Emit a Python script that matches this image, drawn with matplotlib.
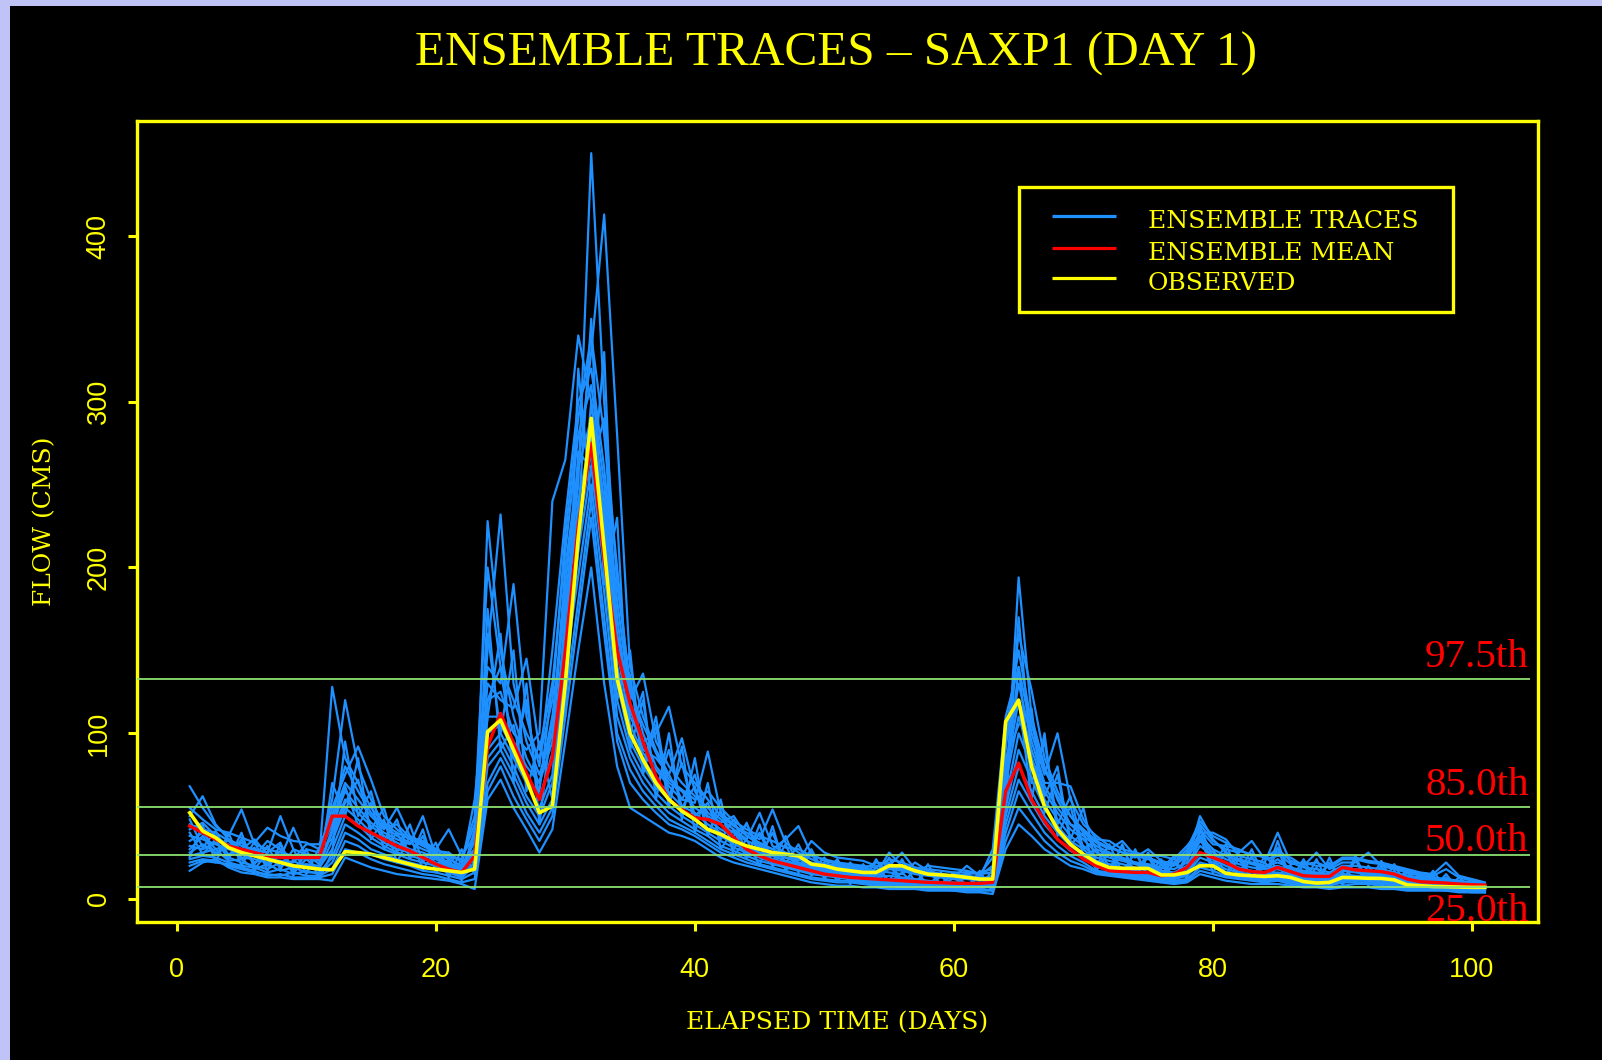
import numpy as np
import matplotlib
matplotlib.use('Agg')
import matplotlib.pyplot as plt
from matplotlib import font_manager
from matplotlib.patches import Rectangle

# daily flows (CMS), days 1..101
days = np.arange(1, 102)

observed = [
    52, 41, 37, 31, 28, 26, 24, 22, 20, 19,
    18, 17.6, 28.5, 28, 27, 25, 23, 21, 19, 18,
    17, 16, 18, 101, 108, 90, 72, 52, 56, 130,
    218, 290, 212, 133, 100, 84, 70, 60, 53, 48,
    42, 39, 35, 32, 30, 28, 27, 26, 21, 20,
    18, 17, 16, 16, 20, 20, 17, 15, 14.5, 14,
    13, 12, 12, 107, 120, 80, 56, 42, 33, 27,
    22, 19, 18.5, 18.5, 18.4, 14.5, 14.5, 16, 20, 20,
    15.5, 14.5, 14, 13.6, 14, 13, 10.5, 9.6, 10, 13,
    12.8, 12.5, 12.4, 11.5, 8.5, 8, 7.5, 7.4, 7.2, 7, 7,
]

ens_mean = [
    44, 40, 36, 32, 30, 28, 26, 25, 25, 25,
    25, 50, 50, 44, 40, 36, 32, 29, 25, 21,
    18, 16, 26, 92, 112, 94, 76, 60, 85, 150,
    225, 275, 205, 150, 118, 95, 74, 60, 54, 49,
    48, 45, 37, 30, 26, 23, 21, 19, 17, 15,
    14, 13, 12.5, 12, 11.5, 11, 10.5, 10, 9.8, 9.5,
    9.4, 9.4, 10, 65, 82, 60, 47, 36, 30, 24,
    20, 17, 16.5, 16, 16, 14, 15, 19, 28, 25,
    22, 18, 16.5, 16, 19, 16.5, 14, 13.6, 13.6, 19,
    17.5, 17, 16.5, 15, 12, 10.4, 10, 9.6, 9, 8.6, 8.4,
]

trace_01 = [
    68, 55, 44, 38, 54, 33, 30, 28, 26, 24,
    24, 128, 85, 70, 55, 45, 40, 36, 33, 29,
    28, 22, 30, 228, 150, 110, 85, 70, 110, 180,
    250, 450, 300, 190, 130, 100, 80, 70, 65, 55,
    50, 45, 40, 35, 32, 28, 25, 22, 20, 18,
    17, 16, 15, 14, 18, 17, 15, 14, 13, 12,
    12, 11, 12, 60, 194, 110, 80, 60, 45, 38,
    32, 28, 25, 22, 21, 19, 18, 22, 50, 36,
    28, 24, 22, 20, 22, 19, 17, 16, 15, 18,
    18, 17, 16, 15, 13, 12, 11, 10, 9, 8, 7,
]
trace_02 = [
    50, 62, 45, 36, 32, 30, 28, 50, 30, 27,
    26, 60, 120, 80, 60, 44, 38, 34, 30, 27,
    25, 24, 45, 150, 232, 130, 95, 75, 100, 200,
    260, 330, 413, 280, 140, 110, 90, 75, 60, 58,
    89, 52, 45, 38, 33, 30, 27, 24, 21, 19,
    18, 17, 16, 15, 28, 20, 16, 15, 14, 13,
    13, 12, 14, 90, 160, 126, 85, 65, 50, 40,
    34, 30, 35, 26, 24, 21, 20, 26, 40, 40,
    36, 26, 24, 22, 40, 22, 19, 18, 16, 20,
    20, 19, 18, 16, 14, 13, 12, 11, 10, 9, 8,
]
trace_03 = [
    45, 42, 40, 35, 30, 36, 27, 25, 43, 25,
    23, 55, 75, 92, 72, 50, 42, 36, 32, 28,
    24, 20, 60, 140, 130, 190, 110, 80, 150, 230,
    300, 320, 260, 180, 120, 136, 95, 80, 70, 62,
    55, 48, 42, 36, 52, 32, 28, 25, 22, 20,
    19, 18, 17, 16, 20, 28, 18, 16, 15, 14,
    14, 13, 30, 110, 140, 100, 75, 100, 60, 45,
    38, 32, 28, 25, 30, 23, 21, 28, 45, 35,
    30, 28, 35, 24, 26, 25, 20, 28, 18, 22,
    22, 28, 20, 18, 16, 14, 13, 12, 11, 10, 9,
]
trace_04 = [
    42, 46, 38, 32, 34, 26, 35, 30, 24, 33,
    33, 48, 70, 60, 50, 42, 55, 38, 34, 30,
    42, 26, 38, 130, 120, 115, 145, 90, 130, 210,
    280, 310, 250, 170, 110, 95, 100, 116, 80, 70,
    60, 50, 44, 40, 36, 54, 34, 28, 24, 21,
    20, 19, 18, 22, 21, 19, 17, 15, 14, 13,
    20, 14, 20, 80, 130, 95, 70, 70, 68, 48,
    36, 35, 30, 28, 26, 26, 24, 32, 42, 33,
    32, 30, 26, 26, 28, 21, 22, 20, 20, 25,
    25, 23, 22, 20, 18, 16, 15, 22, 14, 12, 10,
]
trace_05 = [
    38, 36, 33, 30, 27, 29, 24, 23, 22, 30,
    28, 45, 65, 55, 46, 40, 36, 33, 50, 26,
    22, 18, 35, 120, 125, 100, 90, 100, 240, 265,
    340, 300, 240, 160, 115, 90, 85, 75, 97, 65,
    52, 46, 50, 38, 34, 30, 36, 44, 27, 23,
    21, 20, 19, 17, 16, 15, 22, 17, 15, 14,
    15, 16, 18, 75, 120, 90, 68, 55, 45, 42,
    30, 27, 24, 22, 20, 18, 26, 24, 38, 30,
    26, 23, 21, 19, 24, 18, 16, 15, 14, 19,
    17, 16, 15, 14, 12, 11, 10, 9, 8, 8, 7,
]
trace_06 = [
    35, 40, 30, 33, 25, 24, 22, 26, 20, 21,
    20, 40, 60, 52, 44, 38, 34, 30, 28, 25,
    21, 19, 30, 110, 110, 95, 80, 70, 95, 190,
    260, 290, 230, 150, 105, 88, 78, 68, 60, 75,
    48, 42, 38, 45, 30, 27, 25, 23, 35, 28,
    25, 24, 23, 20, 19, 18, 16, 20, 19, 18,
    17, 15, 16, 70, 110, 85, 65, 52, 42, 36,
    28, 25, 23, 21, 19, 17, 16, 20, 35, 28,
    24, 21, 19, 18, 20, 17, 15, 14, 13, 17,
    16, 15, 14, 13, 11, 10, 9, 9, 8, 7, 6,
]
trace_07 = [
    32, 30, 34, 27, 29, 22, 25, 20, 23, 19,
    18, 35, 55, 48, 40, 34, 30, 28, 26, 24,
    20, 17, 28, 100, 105, 90, 75, 60, 85, 170,
    240, 280, 220, 140, 100, 85, 72, 64, 56, 52,
    45, 40, 35, 32, 28, 26, 23, 21, 19, 17,
    16, 15, 14, 13, 14, 13, 12, 11, 10, 10,
    9, 9, 12, 60, 100, 80, 60, 48, 38, 32,
    25, 23, 21, 19, 18, 16, 15, 18, 32, 26,
    22, 19, 17, 16, 18, 15, 13, 13, 12, 15,
    14, 14, 13, 12, 10, 9, 9, 8, 7, 7, 6,
]
trace_08 = [
    28, 33, 28, 25, 22, 20, 18, 22, 18, 20,
    19, 30, 50, 45, 37, 32, 28, 26, 24, 22,
    19, 15, 25, 90, 100, 85, 70, 55, 75, 160,
    220, 270, 210, 130, 95, 80, 68, 60, 54, 48,
    42, 38, 33, 30, 27, 24, 22, 20, 18, 16,
    15, 14, 13, 12, 12, 12, 11, 10, 9, 9,
    8, 8, 10, 55, 90, 72, 55, 44, 35, 30,
    23, 21, 19, 17, 16, 15, 14, 16, 28, 24,
    20, 17, 16, 15, 16, 14, 12, 12, 11, 14,
    13, 13, 12, 11, 9, 9, 8, 8, 7, 6, 6,
]
trace_09 = [
    26, 28, 30, 23, 24, 18, 21, 17, 19, 16,
    16, 25, 45, 40, 34, 30, 27, 24, 22, 20,
    17, 14, 22, 85, 95, 80, 62, 50, 70, 150,
    210, 260, 200, 120, 90, 75, 64, 56, 50, 45,
    40, 35, 31, 28, 25, 22, 20, 18, 16, 15,
    14, 13, 12, 11, 11, 10, 10, 9, 8, 8,
    7, 7, 9, 50, 80, 65, 50, 40, 32, 27,
    21, 19, 17, 16, 15, 14, 13, 15, 25, 22,
    18, 16, 14, 14, 15, 13, 11, 11, 10, 12,
    12, 12, 11, 10, 9, 8, 8, 7, 6, 6, 5,
]
trace_10 = [
    24, 26, 25, 22, 20, 19, 16, 18, 15, 17,
    15, 22, 40, 36, 30, 27, 24, 22, 20, 18,
    16, 13, 20, 80, 90, 75, 58, 45, 60, 140,
    195, 250, 185, 110, 85, 70, 60, 52, 47, 42,
    38, 32, 29, 26, 23, 21, 19, 17, 15, 14,
    13, 12, 11, 10, 10, 9, 9, 8, 7, 7,
    7, 6, 8, 45, 72, 58, 45, 36, 29, 25,
    19, 18, 16, 15, 14, 13, 12, 14, 22, 20,
    16, 14, 13, 12, 13, 11, 10, 10, 9, 11,
    11, 11, 10, 9, 8, 8, 7, 7, 6, 5, 5,
]
trace_11 = [
    22, 24, 23, 20, 18, 16, 15, 14, 16, 14,
    14, 18, 35, 32, 27, 24, 22, 20, 17, 16,
    14, 12, 16, 70, 85, 70, 52, 40, 55, 120,
    180, 240, 170, 100, 78, 65, 56, 48, 44, 40,
    35, 30, 27, 24, 21, 19, 17, 15, 13, 12,
    11, 11, 10, 9, 9, 8, 8, 7, 6, 6,
    6, 5, 6, 40, 65, 52, 40, 32, 26, 22,
    17, 16, 15, 14, 13, 12, 11, 12, 19, 17,
    14, 13, 12, 11, 12, 10, 9, 9, 8, 10,
    10, 10, 9, 8, 7, 7, 6, 6, 5, 5, 5,
]
trace_12 = [
    20, 23, 22, 21, 19, 17, 14, 15, 13, 13,
    13, 15, 30, 28, 24, 21, 19, 17, 15, 14,
    12, 10, 12, 65, 80, 62, 48, 35, 50, 110,
    170, 230, 160, 95, 70, 60, 52, 45, 42, 38,
    33, 28, 25, 22, 20, 18, 16, 14, 12, 11,
    10, 10, 9, 8, 8, 7, 7, 6, 6, 5,
    5, 5, 5, 35, 55, 45, 35, 28, 23, 20,
    16, 15, 14, 13, 12, 11, 10, 11, 17, 15,
    13, 12, 11, 10, 11, 9, 8, 8, 7, 8,
    9, 9, 8, 7, 6, 6, 6, 5, 5, 4, 4,
]
trace_13 = [
    17, 22, 24, 19, 16, 15, 13, 13, 12, 12,
    12, 11, 25, 22, 19, 17, 15, 14, 13, 12,
    11, 9, 6, 60, 72, 55, 42, 28, 42, 95,
    150, 200, 130, 80, 55, 50, 45, 40, 38, 35,
    30, 25, 22, 20, 18, 16, 14, 12, 10, 9,
    8, 8, 7, 7, 6, 6, 6, 5, 5, 5,
    4, 4, 3, 30, 45, 38, 30, 25, 20, 18,
    15, 14, 13, 12, 11, 10, 9, 10, 15, 13,
    11, 10, 9, 9, 9, 8, 7, 7, 6, 7,
    7, 7, 6, 6, 5, 5, 5, 5, 4, 4, 4,
]
trace_14 = [
    55, 48, 42, 40, 37, 34, 43, 38, 35, 34,
    30, 50, 80, 65, 52, 43, 45, 37, 35, 30,
    26, 24, 50, 200, 140, 120, 100, 85, 120, 220,
    290, 340, 280, 200, 125, 105, 88, 72, 66, 60,
    65, 55, 47, 42, 38, 35, 31, 30, 26, 24,
    22, 21, 20, 19, 24, 22, 19, 18, 17, 16,
    16, 15, 25, 100, 150, 105, 78, 62, 50, 42,
    35, 31, 28, 27, 25, 22, 22, 30, 47, 38,
    34, 29, 27, 25, 30, 23, 21, 22, 19, 24,
    24, 22, 21, 19, 17, 15, 14, 18, 13, 11, 9,
]
trace_15 = [
    30, 38, 27, 36, 24, 31, 20, 29, 17, 27,
    21, 42, 68, 44, 58, 30, 40, 25, 38, 20,
    28, 14, 42, 160, 100, 150, 65, 95, 60, 175,
    230, 350, 190, 230, 90, 120, 66, 90, 55, 68,
    40, 53, 30, 46, 25, 40, 21, 33, 17, 25,
    13, 22, 12, 19, 11, 24, 10, 17, 9, 16,
    8, 14, 6, 85, 105, 115, 52, 75, 36, 55,
    20, 33, 16, 28, 14, 24, 12, 25, 36, 30,
    15, 27, 13, 22, 14, 20, 10, 19, 9, 16,
    10, 20, 9, 17, 8, 14, 7, 13, 6, 9, 5,
]
trace_16 = [
    48, 31, 41, 26, 36, 21, 32, 18, 30, 15,
    31, 36, 58, 72, 42, 55, 28, 45, 22, 34,
    15, 23, 22, 120, 140, 85, 120, 60, 88, 150,
    270, 260, 290, 150, 135, 80, 110, 62, 82, 50,
    58, 36, 48, 27, 40, 22, 38, 19, 30, 15,
    24, 11, 21, 10, 25, 9, 18, 8, 16, 7,
    15, 6, 18, 65, 140, 70, 95, 45, 62, 30,
    36, 18, 32, 15, 28, 13, 25, 12, 42, 19,
    33, 15, 30, 12, 35, 11, 24, 10, 22, 9,
    26, 9, 23, 8, 18, 7, 17, 6, 13, 6, 9,
]
trace_17 = [
    25, 45, 22, 40, 20, 35, 17, 33, 14, 30,
    12, 28, 95, 50, 65, 35, 48, 24, 42, 16,
    24, 11, 40, 110, 160, 70, 130, 45, 110, 125,
    210, 300, 230, 120, 150, 75, 105, 55, 92, 40,
    70, 30, 42, 24, 45, 19, 33, 16, 28, 12,
    23, 9, 20, 8, 22, 7, 19, 6, 14, 6,
    17, 5, 11, 95, 120, 60, 100, 38, 56, 26,
    30, 15, 33, 12, 26, 10, 22, 14, 38, 16,
    29, 12, 26, 10, 31, 9, 21, 8, 25, 8,
    24, 8, 20, 7, 16, 6, 14, 6, 11, 5, 8,
]
trace_18 = [
    40, 27, 36, 24, 40, 18, 28, 34, 16, 24,
    17, 70, 50, 85, 36, 48, 22, 38, 18, 29,
    13, 30, 15, 175, 90, 105, 70, 65, 130, 110,
    320, 240, 330, 140, 100, 125, 60, 100, 48, 85,
    38, 60, 26, 36, 20, 44, 17, 26, 14, 22,
    11, 18, 10, 24, 9, 16, 8, 21, 7, 13,
    6, 17, 4, 55, 170, 85, 62, 80, 33, 40,
    17, 28, 14, 30, 12, 21, 10, 28, 44, 24,
    14, 24, 12, 26, 18, 20, 9, 24, 8, 20,
    11, 17, 8, 21, 7, 12, 6, 15, 5, 10, 4,
]
traces = [trace_01, trace_02, trace_03, trace_04, trace_05, trace_06,
          trace_07, trace_08, trace_09, trace_10, trace_11, trace_12,
          trace_13, trace_14, trace_15, trace_16, trace_17, trace_18]

# flow percentiles (CMS)
pct_labels = ['97.5th', '85.0th', '50.0th', '25.0th']
pct_values = [132.5, 55.3, 26.5, 7.2]
pct_label_dy = [9.1, 8.9, 2.6, -24.8]  # label baseline offset from line, points

x_ticks = [0, 20, 40, 60, 80, 100]
y_ticks = [0, 100, 200, 300, 400]

legend_labels = ['ENSEMBLE TRACES', 'ENSEMBLE MEAN', 'OBSERVED']

TRACE_C = '#1E90FF'
MEAN_C = '#FF0000'
OBS_C = '#FFFF00'
PCT_C = '#8CE070'
YEL = '#FFFF00'

installed = {f.name for f in font_manager.fontManager.ttflist}
tick_font = 'Liberation Sans Narrow' if 'Liberation Sans Narrow' in installed else 'Liberation Sans'
label_font = 'DejaVu Serif'
times_font = 'Liberation Serif'

fig = plt.figure(figsize=(16.02, 10.6), dpi=100, facecolor='#BFC3F6')
fig.add_artist(Rectangle((10 / 1602, 0), 1 - 10 / 1602, 1 - 6 / 1060,
                         transform=fig.transFigure, facecolor='black',
                         edgecolor='none', zorder=0))

ax = fig.add_axes([137 / 1602, 1 - 922 / 1060, 1401 / 1602, 801 / 1060])
ax.set_facecolor('black')

for tr in traces:
    ax.plot(days, tr, color=TRACE_C, lw=1.6, zorder=2)
ax.plot(days, ens_mean, color=MEAN_C, lw=2.4, zorder=4)
ax.plot(days, observed, color=OBS_C, lw=2.6, zorder=5)

ax.hlines(pct_values, -3.07, 104.5, colors=PCT_C, lw=1.3, zorder=6)
for val, lab, dy in zip(pct_values, pct_labels, pct_label_dy):
    ax.annotate(lab, xy=(104.37, val), xytext=(0, dy), textcoords='offset points',
                ha='right', va='baseline', color='red', fontsize=29.5,
                family=times_font, annotation_clip=False, zorder=7)

ax.set_xlim(-3.07, 105.1)
ax.set_ylim(-13.9, 469.4)

for sp in ax.spines.values():
    sp.set_color(YEL)
    sp.set_linewidth(2.4)

ax.set_xticks(x_ticks)
ax.set_xticklabels([str(v) for v in x_ticks], family=tick_font, fontsize=19.5)
ax.set_yticks(y_ticks)
ax.set_yticklabels([str(v) for v in y_ticks], family=tick_font, fontsize=19.5,
                   rotation=90, va='center')
ax.tick_params(colors=YEL, length=6.5, width=2.2, direction='out')
ax.tick_params(axis='x', pad=19)
ax.tick_params(axis='y', pad=11.7)

ax.set_xlabel('ELAPSED TIME (DAYS)', color=YEL, fontsize=18, family=label_font)
ax.xaxis.set_label_coords(0.5, -0.1117)
ax.set_ylabel('FLOW (CMS)', color=YEL, fontsize=18, family=label_font)
ax.yaxis.set_label_coords(-0.0578, 0.5)

# legend box, drawn in axes fractions
ax.add_patch(Rectangle((0.6296, 0.7615), 0.3097, 0.1561, transform=ax.transAxes,
                       fill=False, edgecolor=YEL, lw=2.4, zorder=8))
handle_y = [0.8814, 0.8411, 0.8044]
text_y = [0.8660, 0.8265, 0.7890]
for lab, col, hy, ty in zip(legend_labels, [TRACE_C, MEAN_C, OBS_C], handle_y, text_y):
    ax.plot([0.6531, 0.6988], [hy, hy], color=col, lw=2.3, transform=ax.transAxes,
            solid_capstyle='butt', zorder=8)
    ax.text(0.7216, ty, lab, color=YEL, fontsize=18, family=label_font,
            va='baseline', ha='left', transform=ax.transAxes, zorder=8)

fig.text(836 / 1602, 1 - 65.5 / 1060, 'ENSEMBLE TRACES \u2013 SAXP1 (DAY 1)',
         ha='center', va='baseline', color=YEL, fontsize=35.5, family=times_font)

fig.savefig('out.png', dpi=100, facecolor=fig.get_facecolor())
